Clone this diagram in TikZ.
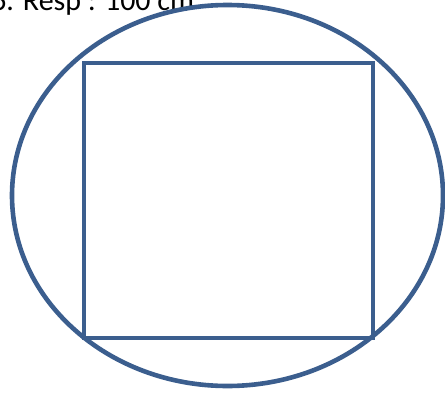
\documentclass[tikz,border=0pt]{standalone}
\usepackage{fontspec}
\setmainfont{Carlito}
\definecolor{shapeblue}{HTML}{3B5E8E}
\begin{document}
\begin{tikzpicture}[x=1pt,y=-1pt,
  outline/.style={draw=shapeblue,line width=4.6pt}]
\useasboundingbox (0,0) rectangle (445,394);
\node[anchor=base west,inner sep=0pt,font=\fontsize{30}{36}\selectfont] (title) at (-9,10) {6. Resp : 100 cm};
\draw[outline] (227.5,195.5) ellipse [x radius=215.5, y radius=190.5];
\draw[outline] (84,63) rectangle (373,338);
\end{tikzpicture}
\end{document}
